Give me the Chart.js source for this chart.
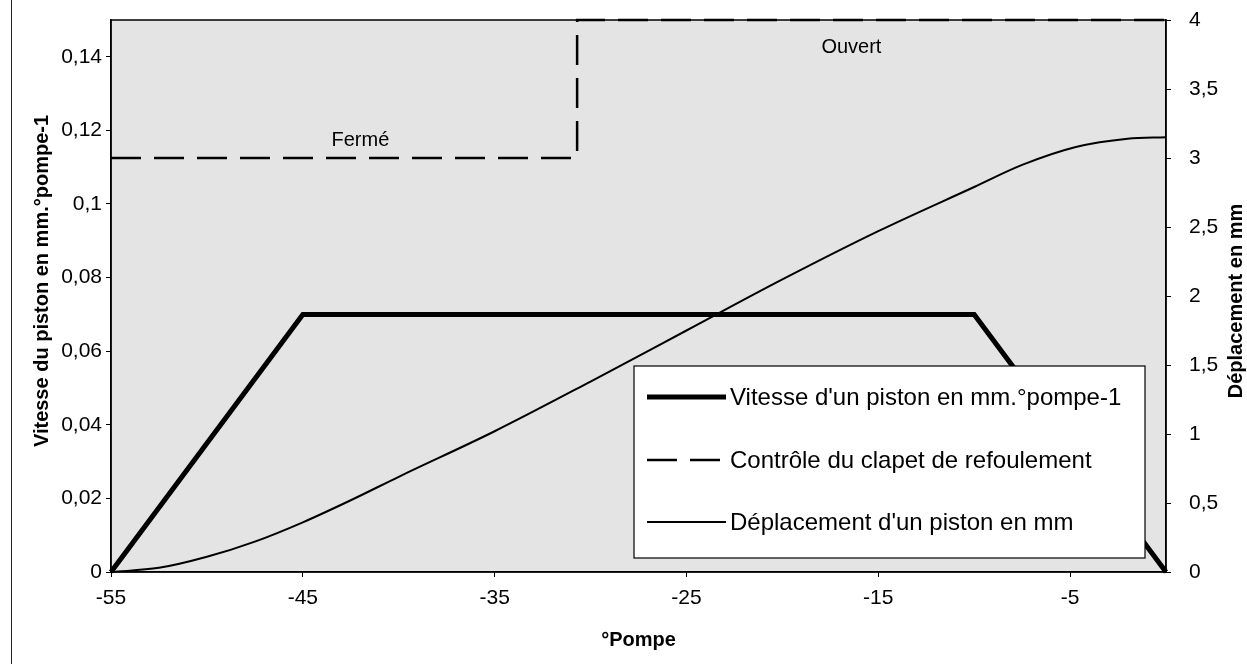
<!DOCTYPE html>
<html lang="fr">
<head>
  <meta charset="UTF-8">
  <title>Vitesse et déplacement du piston</title>
  <script src="https://cdn.jsdelivr.net/npm/chart.js"></script>
  <style>
    body { margin: 0; padding: 0; background: white; font-family: 'Liberation Sans', Arial, sans-serif; }
    .page { position: relative; width: 1247px; height: 664px; overflow: hidden; }
    .page-edge { position: absolute; left: 11px; top: 0; height: 664px; border-left: 1.5px solid #222; }
    canvas { position: absolute; left: 0; top: 0; }
  </style>
</head>
<body>
  <div class="page">
    <div class="page-edge"></div>
    <canvas id="chart" width="1247" height="664"></canvas>
  </div>

  <script>
    // valeurs
    const vitesseX = [-55, -45, -10, 0];
    const vitesseY = [0, 0.07, 0.07, 0];

    const clapetX = [-55, -30.7, -30.7, 0];
    const clapetY = [3, 3, 4, 4];

    const deplX = [-55, -52.5, -50, -47.5, -45, -42.5, -40, -35, -30, -25, -20, -15, -10, -7.5, -4.7, -2, 0];
    const deplY = [0, 0.03, 0.11, 0.22, 0.36, 0.52, 0.69, 1.02, 1.38, 1.75, 2.12, 2.47, 2.79, 2.95, 3.08, 3.14, 3.15];

    const xTicks = [-55, -45, -35, -25, -15, -5];
    const leftTicks = [0, 0.02, 0.04, 0.06, 0.08, 0.1, 0.12, 0.14];
    const leftLabels = ['0', '0,02', '0,04', '0,06', '0,08', '0,1', '0,12', '0,14'];
    const rightTicks = [0, 0.5, 1, 1.5, 2, 2.5, 3, 3.5, 4];
    const rightLabels = ['0', '0,5', '1', '1,5', '2', '2,5', '3', '3,5', '4'];

    const labels = [
      "Vitesse d'un piston en mm.°pompe-1",
      'Contrôle du clapet de refoulement',
      "Déplacement d'un piston en mm"
    ];

    const FONT = "'Liberation Sans', Arial, sans-serif";
    const toPoints = (xs, ys) => xs.map((x, i) => ({ x: x, y: ys[i] }));

    const plotPlugin = {
      id: 'plot',
      beforeDraw(chart) {
        const { ctx, chartArea: a } = chart;
        ctx.save();
        ctx.fillStyle = '#e4e4e4';
        ctx.fillRect(a.left, a.top, a.right - a.left, a.bottom - a.top);
        ctx.restore();
      },
      beforeDatasetsDraw(chart) {
        const { ctx, chartArea: a } = chart;
        ctx.save();
        ctx.strokeStyle = '#000';
        ctx.lineWidth = 1.5;
        ctx.strokeRect(a.left, a.top, a.right - a.left, a.bottom - a.top);
        ctx.restore();
      },
      afterDraw(chart) {
        const { ctx, scales } = chart;
        ctx.save();
        ctx.fillStyle = '#000';

        // annotations Fermé / Ouvert
        ctx.font = '20px ' + FONT;
        ctx.textAlign = 'center';
        ctx.textBaseline = 'middle';
        ctx.fillText('Fermé', scales.x.getPixelForValue(-42), scales.y2.getPixelForValue(3.13));
        ctx.fillText('Ouvert', scales.x.getPixelForValue(-16.4), scales.y2.getPixelForValue(3.8));

        // titres des axes verticaux
        ctx.font = 'bold 20px ' + FONT;
        ctx.save();
        ctx.translate(42, 281);
        ctx.rotate(-Math.PI / 2);
        ctx.fillText('Vitesse du piston en mm.°pompe-1', 0, 0);
        ctx.restore();
        ctx.save();
        ctx.translate(1236, 301);
        ctx.rotate(-Math.PI / 2);
        ctx.fillText('Déplacement en mm', 0, 0);
        ctx.restore();

        // légende
        const box = { left: 634, top: 366, right: 1145, bottom: 558 };
        ctx.fillStyle = '#fff';
        ctx.fillRect(box.left, box.top, box.right - box.left, box.bottom - box.top);
        ctx.strokeStyle = '#000';
        ctx.lineWidth = 1.2;
        ctx.strokeRect(box.left, box.top, box.right - box.left, box.bottom - box.top);

        const rows = [397, 460, 522];
        ctx.font = '24px ' + FONT;
        ctx.textAlign = 'left';
        chart.data.datasets.forEach((ds, i) => {
          ctx.beginPath();
          ctx.strokeStyle = ds.borderColor;
          ctx.lineWidth = ds.borderWidth;
          ctx.setLineDash(ds.borderDash || []);
          ctx.moveTo(647, rows[i]);
          ctx.lineTo(726, rows[i]);
          ctx.stroke();
          ctx.setLineDash([]);
          ctx.fillStyle = '#000';
          ctx.fillText(ds.label, 730, rows[i] + 1);
        });
        ctx.restore();
      }
    };

    new Chart(document.getElementById('chart'), {
      type: 'line',
      data: {
        datasets: [
          {
            label: labels[0],
            data: toPoints(vitesseX, vitesseY),
            yAxisID: 'y',
            borderColor: '#000',
            borderWidth: 5,
            pointRadius: 0,
            tension: 0,
            clip: 4
          },
          {
            label: labels[1],
            data: toPoints(clapetX, clapetY),
            yAxisID: 'y2',
            borderColor: '#000',
            borderWidth: 2.5,
            borderDash: [30, 13],
            pointRadius: 0,
            tension: 0,
            clip: 4
          },
          {
            label: labels[2],
            data: toPoints(deplX, deplY),
            yAxisID: 'y2',
            borderColor: '#000',
            borderWidth: 2,
            pointRadius: 0,
            cubicInterpolationMode: 'monotone',
            clip: 4
          }
        ]
      },
      options: {
        responsive: false,
        animation: false,
        layout: { padding: { top: 20, right: 0, bottom: 0, left: 0 } },
        plugins: { legend: { display: false }, tooltip: { enabled: false } },
        scales: {
          x: {
            type: 'linear',
            min: -55,
            max: 0,
            afterBuildTicks: s => { s.ticks = xTicks.map(v => ({ value: v })); },
            afterFit: s => { s.height = 92; s.paddingLeft = 0; s.paddingRight = 0; },
            ticks: {
              color: '#000',
              font: { family: FONT, size: 21 },
              padding: 9,
              maxRotation: 0,
              callback: v => String(v)
            },
            grid: { drawOnChartArea: false, tickLength: 5, color: '#000' },
            border: { color: '#000', width: 1.5 },
            title: {
              display: true,
              text: '°Pompe',
              color: '#000',
              font: { family: FONT, size: 20, weight: 'bold' },
              padding: { top: 0, bottom: 12 }
            }
          },
          y: {
            position: 'left',
            min: 0,
            max: 0.15,
            afterBuildTicks: s => { s.ticks = leftTicks.map(v => ({ value: v })); },
            afterFit: s => { s.width = 111; s.paddingTop = 0; s.paddingBottom = 0; },
            ticks: {
              color: '#000',
              font: { family: FONT, size: 21 },
              padding: 4,
              callback: (v, i) => leftLabels[i]
            },
            grid: { drawOnChartArea: false, tickLength: 5, color: '#000' },
            border: { color: '#000', width: 1.5 }
          },
          y2: {
            position: 'right',
            min: 0,
            max: 4,
            afterBuildTicks: s => { s.ticks = rightTicks.map(v => ({ value: v })); },
            afterFit: s => { s.width = 81; s.paddingTop = 0; s.paddingBottom = 0; },
            ticks: {
              color: '#000',
              font: { family: FONT, size: 21 },
              padding: 18,
              callback: (v, i) => rightLabels[i]
            },
            grid: { drawOnChartArea: false, tickLength: 5, color: '#000' },
            border: { color: '#000', width: 1.5 }
          }
        }
      },
      plugins: [plotPlugin]
    });
  </script>
</body>
</html>
